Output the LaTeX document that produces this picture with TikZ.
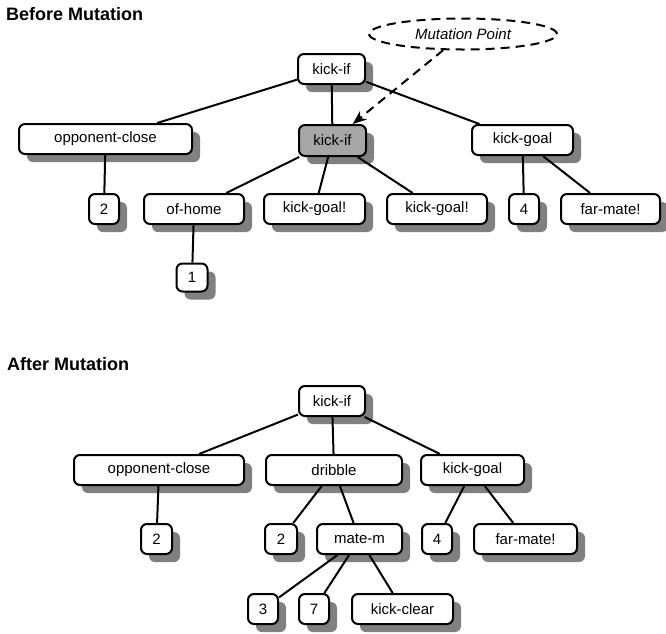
\documentclass[tikz,border=0pt]{standalone}
\usepackage{fontspec}
\setmainfont{Liberation Sans}
\usetikzlibrary{shapes.geometric,shadows,arrows.meta}
\begin{document}
\begin{tikzpicture}[x=1pt,y=-1pt,
  tbox/.style={draw=black, line width=2pt, rounded corners=6pt, fill=white,
    minimum height=30pt, inner sep=0pt, font=\fontsize{15}{18}\selectfont,
    drop shadow={shadow xshift=8pt, shadow yshift=-8pt, fill=black!50, opacity=1}},
  hbox/.style={tbox, fill=black!35},
  edge/.style={line width=2pt},
  title/.style={anchor=base west, inner sep=0pt, font=\fontsize{18}{22}\selectfont\bfseries},
  callout/.style={ellipse, draw, dash pattern=on 9pt off 6pt, line width=2pt,
    minimum width=188pt, minimum height=31pt, inner sep=0pt,
    font=\fontsize{15}{18}\selectfont\itshape},
  pointer/.style={line width=2pt, dash pattern=on 9pt off 6pt,
    -{Stealth[length=14pt,width=11pt]}}
]
\useasboundingbox (0,0) rectangle (666,633);

% ---------- Before Mutation ----------
\node[title] (t1) at (6,20.5) {Before Mutation};
\node[callout] (mp) at (463,34) {Mutation Point};

\node[tbox, minimum width=67pt] (T) at (331.5,69) {kick-if};
\node[tbox, minimum width=173pt] (A) at (105.5,139) {opponent-close};
\node[hbox, minimum width=67pt, minimum height=31pt] (B) at (332.5,140.5) {kick-if};
\node[tbox, minimum width=101pt] (C) at (522.5,140) {kick-goal};
\node[tbox, minimum width=30pt] (A1) at (104,209) {2};
\node[tbox, minimum width=100pt] (B1) at (194,209) {of-home};
\node[tbox, minimum width=101pt] (B2) at (314.5,209) {kick-goal!};
\node[tbox, minimum width=100pt] (B3) at (437,209) {kick-goal!};
\node[tbox, minimum width=30pt] (C1) at (524,209) {4};
\node[tbox, minimum width=99pt] (C2) at (610.5,209) {far-mate!};
\node[tbox, minimum width=31pt, minimum height=28pt] (B11) at (192,277.5) {1};

\draw[edge] (T) -- (A);
\draw[edge] (T) -- (B);
\draw[edge] (T) -- (C);
\draw[edge] (A) -- (A1);
\draw[edge] (B) -- (B1);
\draw[edge] (B) -- (B2);
\draw[edge] (B) -- (B3);
\draw[edge] (C) -- (C1);
\draw[edge] (C) -- (C2);
\draw[edge] (B1) -- (B11);
\draw[pointer] (mp) -- (B);

% ---------- After Mutation ----------
\node[title] (t2) at (7,370.5) {After Mutation};

\node[tbox, minimum width=66pt] (U) at (332,401) {kick-if};
\node[tbox, minimum width=170pt] (P) at (159,470) {opponent-close};
\node[tbox, minimum width=136pt] (D) at (334,470) {dribble};
\node[tbox, minimum width=103pt] (G) at (472.5,470) {kick-goal};
\node[tbox, minimum width=31pt] (P1) at (156.5,539) {2};
\node[tbox, minimum width=32pt] (D1) at (281,539) {2};
\node[tbox, minimum width=85pt] (D2) at (359.5,539) {mate-m};
\node[tbox, minimum width=30pt] (G1) at (437,539) {4};
\node[tbox, minimum width=103pt] (G2) at (525.5,539) {far-mate!};
\node[tbox, minimum width=30pt] (D21) at (263,609) {3};
\node[tbox, minimum width=30pt] (D22) at (314,609) {7};
\node[tbox, minimum width=101pt] (D23) at (402.5,609) {kick-clear};

\draw[edge] (U) -- (P);
\draw[edge] (U) -- (D);
\draw[edge] (U) -- (G);
\draw[edge] (P) -- (P1);
\draw[edge] (D) -- (D1);
\draw[edge] (D) -- (D2);
\draw[edge] (G) -- (G1);
\draw[edge] (G) -- (G2);
\draw[edge] (D2) -- (D21);
\draw[edge] (D2) -- (D22);
\draw[edge] (D2) -- (D23);
\end{tikzpicture}
\end{document}
